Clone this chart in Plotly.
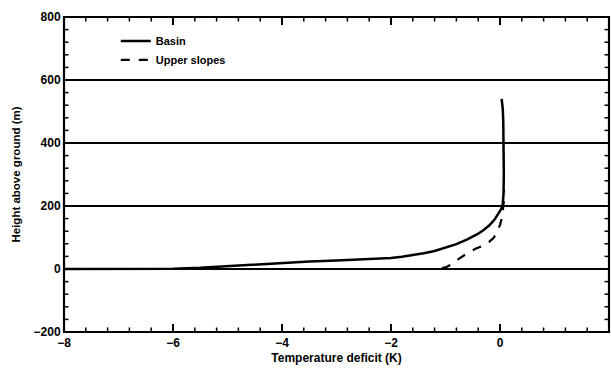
import plotly.graph_objects as go

# Temperature deficit profiles (K) versus height above ground (m)
basin_deficit = [-8.0, -6.5, -6.0, -5.5, -5.0, -4.5, -4.0, -3.5, -3.0, -2.5, -2.2, -2.0, -1.8,
                 -1.6, -1.4, -1.2, -1.0, -0.8, -0.6, -0.4, -0.3, -0.2, -0.1, -0.03, 0.02,
                 0.05, 0.065, 0.07, 0.07, 0.06, 0.05, 0.03]
basin_height = [0, 0, 1, 4, 9, 15, 20, 24, 27, 30, 32, 35, 39,
                44, 50, 57, 67, 79, 94, 112, 124, 138, 157, 175, 190,
                205, 240, 300, 400, 470, 510, 540]

slope_deficit = [-8.0, -1.15, -1.0, -0.88, -0.75, -0.6, -0.45, -0.3, -0.2, -0.12, -0.06,
                 0.0, 0.04, 0.06, 0.07, 0.075]
slope_height = [0, 0, 5, 16, 33, 50, 64, 75, 86, 98, 115,
                140, 165, 190, 215, 250]

x_range = [-8, 2]
y_range = [-200, 800]
x_major_ticks = [-8, -6, -4, -2, 0, 2]
y_major_ticks = [-200, 0, 200, 400, 600, 800]
x_minor_step = 0.4
y_minor_step = 40

font_family = "Liberation Sans, Arial, sans-serif"
W, H = 611, 369
M = dict(l=64, r=2, t=17, b=37)
plot_w = W - M["l"] - M["r"]
plot_h = H - M["t"] - M["b"]

fig = go.Figure()
fig.add_trace(go.Scatter(x=basin_deficit, y=basin_height, mode="lines", name="Basin",
                         line=dict(color="black", width=2.5)))
fig.add_trace(go.Scatter(x=slope_deficit, y=slope_height, mode="lines", name="Upper slopes",
                         line=dict(color="black", width=2.2, dash="dash")))

# inward tick marks on all four sides of the frame
shapes = [dict(type="rect", xref="paper", yref="paper", x0=0, y0=0, x1=1, y1=1,
               line=dict(color="black", width=2.2), layer="above")]
n_x = int(round((x_range[1] - x_range[0]) / x_minor_step))
for i in range(1, n_x):
    xv = x_range[0] + i * x_minor_step
    major = any(abs(xv - t) < 1e-6 for t in x_major_ticks)
    length = (8 if major else 4.5) / plot_h
    width = 2 if major else 1.5
    for y0, y1 in ((0, length), (1, 1 - length)):
        shapes.append(dict(type="line", xref="x", yref="paper", x0=xv, x1=xv, y0=y0, y1=y1,
                           line=dict(color="black", width=width), layer="above"))
n_y = int(round((y_range[1] - y_range[0]) / y_minor_step))
for i in range(1, n_y):
    yv = y_range[0] + i * y_minor_step
    major = any(abs(yv - t) < 1e-6 for t in y_major_ticks)
    length = (8 if major else 4.5) / plot_w
    width = 2 if major else 1.5
    for x0, x1 in ((0, length), (1, 1 - length)):
        shapes.append(dict(type="line", xref="paper", yref="y", x0=x0, x1=x1, y0=yv, y1=yv,
                           line=dict(color="black", width=width), layer="above"))

fig.update_layout(
    width=W, height=H,
    margin=M,
    paper_bgcolor="white", plot_bgcolor="white",
    font=dict(family=font_family, color="black"),
    showlegend=True,
    legend=dict(x=0.095, y=0.97, xanchor="left", yanchor="top", bgcolor="rgba(0,0,0,0)",
                font=dict(size=11, weight="bold"), tracegroupgap=2),
    shapes=shapes,
)
fig.update_xaxes(
    range=x_range, tickmode="array", tickvals=x_major_ticks,
    showline=True, linecolor="black", mirror=True, ticks="",
    showgrid=False, zeroline=False,
    tickfont=dict(size=12, weight="bold"),
    title=dict(text="Temperature deficit (K)", font=dict(size=12, weight="bold"), standoff=4),
)
fig.update_yaxes(
    range=y_range, tickmode="array", tickvals=y_major_ticks,
    showline=True, linecolor="black", mirror=True, ticks="",
    showgrid=True, gridcolor="black", gridwidth=1.5, zeroline=False,
    tickfont=dict(size=12, weight="bold"),
    title=dict(text="Height above ground (m)", font=dict(size=11.5, weight="bold"), standoff=10),
)

fig.write_html("out.html")
